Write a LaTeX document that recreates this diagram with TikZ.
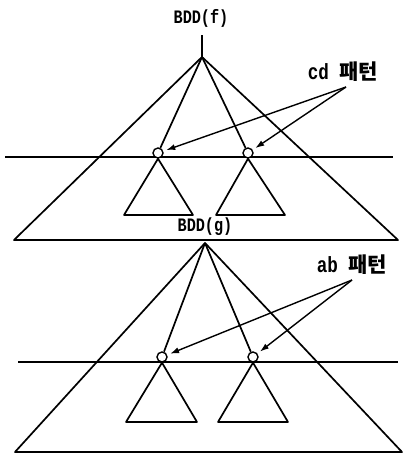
\documentclass[tikz,border=0pt]{standalone}
\usepackage{fontspec}
\usetikzlibrary{arrows.meta}
\newfontfamily\bddfont{Liberation Mono}[FakeStretch=0.8]
\newfontfamily\patfont{Noto Sans CJK KR}

\begin{document}
\begin{tikzpicture}[x=1pt, y=-1pt,
  edge/.style   = {line width=1.7pt, line join=round},
  level/.style  = {line width=2pt},
  vtx/.style    = {circle, draw, line width=1.4pt, fill=white,
                   minimum size=10pt, inner sep=0pt},
  bddlbl/.style = {font=\fontsize{19}{20}\bddfont\bfseries},
  patlbl/.style = {font=\fontsize{22}{24}\bddfont\bfseries},
  arr/.style    = {-{Latex[length=9pt,width=6pt]}, line width=1.4pt,
                   shorten >=3pt}
]
\useasboundingbox (0,0) rectangle (403,453);

% BDD(f)
\node[bddlbl] (f-lbl) at (201,18) {BDD(f)};
\coordinate (f-top)  at (202,35);
\coordinate (f-apex) at (202,57);
\draw[level] (5,157) -- (393,157);
\draw[edge] (f-top) -- (f-apex);
\draw[edge] (f-apex) -- (14,240) -- (398,240) -- cycle;
\node[vtx] (f-l) at (158,153) {};
\node[vtx] (f-r) at (248,153) {};
\draw[edge] (f-l.south) -- (124,215) -- (193,215) -- cycle;
\draw[edge] (f-r.south) -- (216,215) -- (285,215) -- cycle;
\node[patlbl] (cd-lbl) at (343,72) {cd {\fontsize{21}{24}\patfont\bfseries 패턴}};
\coordinate (cd-src) at (346,87);

% BDD(g)
\node[bddlbl] (g-lbl) at (205,227) {BDD(g)};
\coordinate (g-apex) at (205,243);
\draw[level] (18,362) -- (398,362);
\draw[edge] (g-apex) -- (15,452) -- (402,452) -- cycle;
\node[vtx] (g-l) at (162,357) {};
\node[vtx] (g-r) at (253,357) {};
\draw[edge] (g-l.south) -- (126,422) -- (197,422) -- cycle;
\draw[edge] (g-r.south) -- (218,422) -- (288,422) -- cycle;
\node[patlbl] (ab-lbl) at (352,265) {ab {\fontsize{21}{24}\patfont\bfseries 패턴}};
\coordinate (ab-src) at (352,280);

\foreach \g in {f,g}{
  \draw[edge] (\g-apex) -- (\g-l);
  \draw[edge] (\g-apex) -- (\g-r);
}
\foreach \src/\g in {cd-src/f, ab-src/g}{
  \draw[arr] (\src) -- (\g-l);
  \draw[arr] (\src) -- (\g-r);
}
\end{tikzpicture}
\end{document}
